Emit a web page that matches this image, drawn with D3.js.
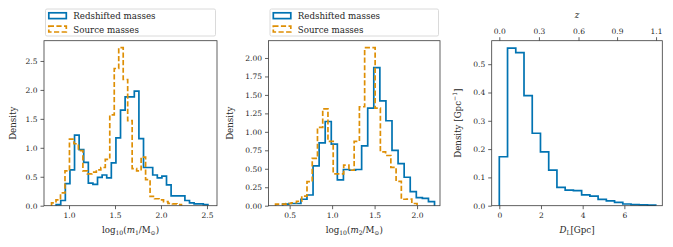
<!DOCTYPE html>
<html>
<head>
<meta charset="utf-8">
<script src="https://cdn.jsdelivr.net/npm/d3@7"></script>
<style>
  body { margin: 0; background: #fff; }
  svg text { font-family: "DejaVu Serif", serif; fill: #262626; }
</style>
</head>
<body>
<div id="chart"></div>
<script>
// ---- data ----
// panel 1 : log10(m1/Msun)
var m1RedStart = 0.86, m1RedWidth = 0.05;
var m1Red = [0.02, 0.09, 0.38, 0.62, 1.22, 0.97, 0.75, 0.39, 0.37, 0.49, 0.53, 0.48,
             0.74, 1.17, 1.65, 1.88, 1.88, 1.98, 1.16, 0.66, 0.66, 0.53, 0.48, 0.51,
             0.36, 0.17, 0.17, 0.17, 0.09, 0.05, 0.03, 0.03, 0.02];
var m1SrcStart = 0.81, m1SrcWidth = 0.0487;
var m1Src = [0.05, 0.1, 0.22, 0.6, 1.15, 1.07, 0.95, 0.6, 0.55, 0.58, 0.62, 0.66,
             0.8, 1.57, 2.37, 2.73, 2.18, 1.47, 0.64, 0.6, 0.84, 0.45, 0.16, 0.12,
             0.1, 0.07, 0.04, 0.03, 0.02];
// panel 2 : log10(m2/Msun)
var m2RedStart = 0.418, m2RedWidth = 0.0715;
var m2Red = [0.02, 0.03, 0.03, 0.087, 0.145, 0.54, 0.85, 1.14, 0.835, 0.35, 0.49, 0.48,
             0.49, 0.81, 1.32, 1.87, 1.42, 1.15, 0.75, 0.57, 0.385, 0.19, 0.11, 0.1, 0.054];
var m2SrcStart = 0.334, m2SrcWidth = 0.0617;
var m2Src = [0.02, 0.02, 0.03, 0.04, 0.06, 0.13, 0.325, 0.64, 1.06, 1.31, 0.87, 0.43,
             0.43, 0.55, 0.48, 0.87, 1.34, 2.14, 2.14, 1.32, 0.73, 0.68, 0.52, 0.33,
             0.087, 0.09, 0.03];
// panel 3 : luminosity distance [Gpc]
var dlStart = 0, dlWidth = 0.395;
var dl = [0.173, 0.557, 0.541, 0.389, 0.256, 0.19, 0.126, 0.065, 0.055, 0.053, 0.038,
          0.034, 0.022, 0.017, 0.012, 0.006, 0.004, 0.003, 0.002];
// tick labels
var m1Ticks = [1.0, 1.5, 2.0, 2.5];
var m1YTicks = [0, 0.5, 1.0, 1.5, 2.0, 2.5];
var m2Ticks = [0.5, 1.0, 1.5, 2.0];
var m2YTicks = [0, 0.25, 0.5, 0.75, 1.0, 1.25, 1.5, 1.75, 2.0];
var dlTicks = [0, 2, 4, 6];
var dlYTicks = [0, 0.1, 0.2, 0.3, 0.4, 0.5];
var zLabels = ["0.0", "0.3", "0.6", "0.9", "1.1"];
var zAtDl = [0, 1.9, 3.8, 5.65, 7.52];   // where each z tick sits on the D_L axis
var legendNames = ["Redshifted masses", "Source masses"];

var blue = "#0173b2", orange = "#de8f05", spine = "#3a3a3a";
var W = 673, H = 247, topY = 40.7, bottomY = 205.7;
var tickFs = 7.5, labelFs = 8.7;

var svg = d3.select("#chart").append("svg").attr("width", W).attr("height", H);

function edges(start, width, vals) {
    // step outline of a histogram
    var pts = [[start, 0]];
    vals.forEach(function (v, i) {
        pts.push([start + i * width, v]);
        pts.push([start + (i + 1) * width, v]);
    });
    pts.push([start + vals.length * width, 0]);
    return pts;
}

function styleAxis(a) {
    a.select(".domain").remove();
    a.selectAll("line").attr("stroke", spine).attr("stroke-width", 0.8);
    a.selectAll("text").attr("font-size", tickFs).attr("font-family", "DejaVu Serif").attr("fill", "#262626");
}

// segments: [text, kind] where kind is "", "i" (italic), "sub", "sup"
function richText(t, segs) {
    var shift = 0;
    segs.forEach(function (s) {
        var want = s[1] === "sub" ? 2 : s[1] === "sup" ? -3.2 : 0;
        var ts = t.append("tspan").text(s[0]);
        if (want !== shift) { ts.attr("dy", want - shift); shift = want; }
        if (s[1] === "sub" || s[1] === "sup") ts.attr("font-size", labelFs * 0.7);
        if (s[1] === "i") ts.attr("font-style", "italic");
    });
}

function panel(p) {
    var x = d3.scaleLinear().domain(p.xDomain).range([p.left, p.right]);
    var y = d3.scaleLinear().domain(p.yDomain).range([bottomY, topY]);
    var g = svg.append("g");

    var line = d3.line().x(d => x(d[0])).y(d => y(d[1]));
    p.series.forEach(function (s) {
        g.append("path")
            .attr("d", line(edges(s.start, s.width, s.vals)))
            .attr("fill", "none")
            .attr("stroke", s.color)
            .attr("stroke-width", 1.7)
            .attr("stroke-dasharray", s.dash || null);
    });

    var ax = g.append("g").attr("transform", "translate(0," + bottomY + ")")
        .call(d3.axisBottom(x).tickValues(p.xTicks).tickFormat(d3.format(p.xFmt))
            .tickSize(3.5).tickPadding(3));
    var ay = g.append("g").attr("transform", "translate(" + p.left + ",0)")
        .call(d3.axisLeft(y).tickValues(p.yTicks).tickFormat(d3.format(p.yFmt))
            .tickSize(3.5).tickPadding(3));
    styleAxis(ax);
    styleAxis(ay);

    g.append("rect").attr("x", p.left).attr("y", topY)
        .attr("width", p.right - p.left).attr("height", bottomY - topY)
        .attr("fill", "none").attr("stroke", spine).attr("stroke-width", 0.8);

    var yl = g.append("text")
        .attr("transform", "translate(" + p.yLabelX + "," + (topY + bottomY) / 2 + ") rotate(-90)")
        .attr("text-anchor", "middle").attr("font-size", labelFs);
    richText(yl, p.yLabel);
    var xl = g.append("text").attr("x", (p.left + p.right) / 2).attr("y", 232.5)
        .attr("text-anchor", "middle").attr("font-size", labelFs);
    richText(xl, p.xLabel);

    if (p.legend) {
        var lg = g.append("g");
        lg.append("rect").attr("x", p.left + 1.5).attr("y", 9)
            .attr("width", p.right - p.left - 3).attr("height", 27).attr("rx", 1.5)
            .attr("fill", "#fff").attr("stroke", "#d0d0d0").attr("stroke-width", 0.8);
        p.series.forEach(function (s, i) {
            var yy = 12.8 + i * 13.4;
            lg.append("rect").attr("x", p.left + 4.8).attr("y", yy)
                .attr("width", 17.5).attr("height", 5.8)
                .attr("fill", "none").attr("stroke", s.color).attr("stroke-width", 1.7)
                .attr("stroke-dasharray", s.dash || null);
            lg.append("text").attr("x", p.left + 29.3).attr("y", yy + 6.6)
                .attr("font-size", labelFs).text(legendNames[i]);
        });
    }
    return { x: x, y: y, g: g };
}

function massLabel(idx) {
    return [["log", ""], ["10", "sub"], ["(", ""], ["m", "i"], [idx, "sub"],
            ["/M", ""], ["\u2299", "sub"], [")", ""]];
}

panel({
    left: 44, right: 217, xDomain: [0.728, 2.609], yDomain: [0, 2.85],
    xTicks: m1Ticks, yTicks: m1YTicks, xFmt: ".1f", yFmt: ".1f",
    yLabelX: 15.5,
    yLabel: [["Density", ""]],
    xLabel: massLabel("1"),
    legend: true,
    series: [
        { start: m1RedStart, width: m1RedWidth, vals: m1Red, color: blue },
        { start: m1SrcStart, width: m1SrcWidth, vals: m1Src, color: orange, dash: "5.2,2.4" }
    ]
});

panel({
    left: 268.5, right: 440, xDomain: [0.251, 2.27], yDomain: [0, 2.234],
    xTicks: m2Ticks, yTicks: m2YTicks, xFmt: ".1f", yFmt: ".2f",
    yLabelX: 233,
    yLabel: [["Density", ""]],
    xLabel: massLabel("2"),
    legend: true,
    series: [
        { start: m2RedStart, width: m2RedWidth, vals: m2Red, color: blue },
        { start: m2SrcStart, width: m2SrcWidth, vals: m2Src, color: orange, dash: "5.2,2.4" }
    ]
});

var p3 = panel({
    left: 491.7, right: 662.3, xDomain: [-0.365, 7.82], yDomain: [0, 0.583],
    xTicks: dlTicks, yTicks: dlYTicks, xFmt: "d", yFmt: ".1f",
    yLabelX: 460.5,
    yLabel: [["Density [Gpc", ""], ["\u22121", "sup"], ["]", ""]],
    xLabel: [["D", "i"], ["L", "sub"], ["[Gpc]", ""]],
    legend: false,
    series: [{ start: dlStart, width: dlWidth, vals: dl, color: blue }]
});

// secondary redshift axis on top of panel 3
var zt = p3.g.append("g").attr("transform", "translate(0," + topY + ")")
    .call(d3.axisTop(p3.x).tickValues(zAtDl)
        .tickFormat(function (d, i) { return zLabels[i]; })
        .tickSize(3.5).tickPadding(3));
styleAxis(zt);
p3.g.append("text").attr("x", (491.7 + 662.3) / 2).attr("y", 18)
    .attr("text-anchor", "middle").attr("font-size", labelFs).attr("font-style", "italic").text("z");
</script>
</body>
</html>
